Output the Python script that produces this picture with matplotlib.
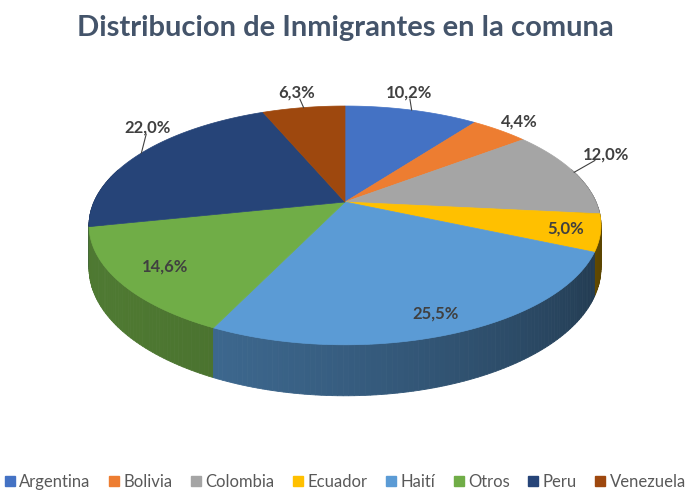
import matplotlib.pyplot as plt
import numpy as np
from matplotlib.patches import Polygon, Patch
from matplotlib.colors import to_rgb

TITLE = 'Distribucion de Inmigrantes en la comuna'
LABELS = ['Argentina', 'Bolivia', 'Colombia', 'Ecuador', 'Haití', 'Otros', 'Peru', 'Venezuela']
VALUES = [10.2, 4.4, 12.0, 5.0, 25.5, 14.6, 22.0, 6.3]
COLORS = ['#4472C4', '#ED7D31', '#A5A5A5', '#FFC000', '#5B9BD5', '#70AD47', '#264478', '#9E480E']

# label placement per slice: (radius, angle shift in degrees, leader line)
LABEL_POS = [(1.22, 3.5, True), (1.15, 0, False), (1.22, 6, True), (0.87, 0, False),
             (0.87, 0, False), (0.82, 0, False), (1.17, -12, True), (1.20, 0, True)]

W, H = 691, 492
CX, CY = 345, 202        # apex of the pie on screen
A, B = 251, 114.8        # half axes of the top disc
K = 0.196                # perspective strength
T = 41                   # thickness of the pie


def proj(theta, r=1.0, z=0.0):
    u = r * np.cos(theta)
    v = r * np.sin(theta)
    d = 1 + K * v
    return CX + A * u / d, CY - B * v / d + T * z / d


def shade(color, theta):
    f = 0.5 + 0.2 * np.cos(theta + np.radians(150))
    return tuple(c * f for c in to_rgb(color))


fig = plt.figure(figsize=(W / 100, H / 100), dpi=100)
ax = fig.add_axes([0, 0, 1, 1])
ax.set_xlim(0, W)
ax.set_ylim(H, 0)
ax.axis('off')

# slice angles, starting at 12 o'clock and going clockwise
fracs = np.array(VALUES) / np.sum(VALUES)
ends = np.pi / 2 - 2 * np.pi * np.cumsum(fracs)
starts = np.concatenate([[np.pi / 2], ends[:-1]])

# side walls, drawn back to front
strips = []
for i, (a0, a1) in enumerate(zip(starts, ends)):
    n = max(2, int(np.degrees(a0 - a1)))
    ts = np.linspace(a0, a1, n + 1)
    for t0, t1 in zip(ts[:-1], ts[1:]):
        tm = (t0 + t1) / 2
        if np.sin(tm) > 0.3:
            continue
        pts = [proj(t0), proj(t1), proj(t1, z=1), proj(t0, z=1)]
        strips.append((np.sin(tm), pts, shade(COLORS[i], tm)))
strips.sort(key=lambda s: -s[0])
for _, pts, col in strips:
    ax.add_patch(Polygon(pts, closed=True, facecolor=col, edgecolor=col, lw=0.6))

# top faces
for i, (a0, a1) in enumerate(zip(starts, ends)):
    ts = np.linspace(a0, a1, 200)
    xs, ys = proj(ts)
    pts = [(CX, CY)] + list(zip(xs, ys))
    ax.add_patch(Polygon(pts, closed=True, facecolor=COLORS[i], edgecolor=COLORS[i], lw=0.5))

# data labels
for i, (a0, a1) in enumerate(zip(starts, ends)):
    r, shift, leader = LABEL_POS[i]
    mid = (a0 + a1) / 2
    lx, ly = proj(mid + np.radians(shift), r)
    txt = f'{VALUES[i]:.1f}%'.replace('.', ',')
    ax.text(lx, ly, txt, ha='center', va='center', fontsize=12, fontweight='bold',
            color='#404040', family='Lato')
    if leader:
        ex, ey = proj(mid)
        dx, dy = lx - ex, ly - ey
        dist = np.hypot(dx, dy)
        ux, uy = dx / dist, dy / dist
        gap = 1 / np.sqrt((ux / 27) ** 2 + (uy / 7) ** 2)
        if dist > gap:
            ax.plot([ex, lx - ux * gap], [ey, ly - uy * gap], color='#404040', lw=0.8)

fig.text(0.5, 1 - 28 / H, TITLE, ha='center', va='center', fontsize=21,
         fontweight='bold', color='#44546A', family='Lato')

handles = [Patch(facecolor=c, edgecolor=c) for c in COLORS]
fig.legend(handles, LABELS, loc='center', bbox_to_anchor=(0.5, 10 / H), ncol=8,
           frameon=False, handlelength=0.6, handleheight=0.6, handletextpad=0.25,
           columnspacing=1.12, prop={'family': 'Lato', 'size': 12}, labelcolor='#595959')

fig.savefig('out.png', dpi=100)
